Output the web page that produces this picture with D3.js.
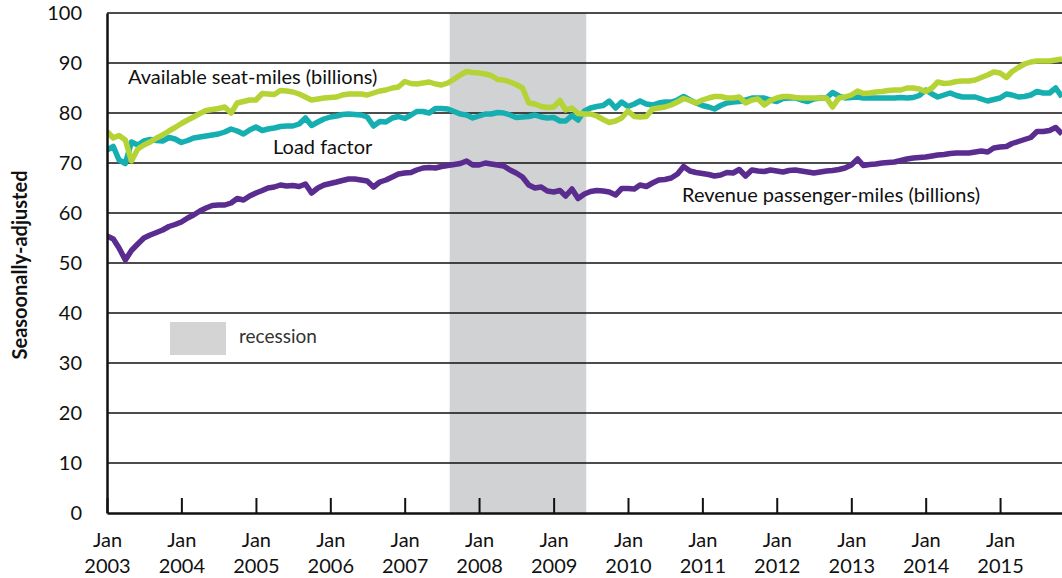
<!DOCTYPE html>
<html>
<head>
<meta charset="utf-8">
<script src="https://cdn.jsdelivr.net/npm/d3@7"></script>
<style>
  body { margin: 0; background: #fff; }
  svg { display: block; font-family: Lato, "Open Sans", sans-serif; }
</style>
</head>
<body>
<svg id="chart" width="1062" height="578"></svg>
<script>
// monthly, Jan 2003 .. Nov 2015
const months = d3.timeMonth.range(new Date(2003, 0, 1), new Date(2015, 11, 1));

const revenuePassengerMiles = [
  55.4, 54.8, 53.0, 50.6, 52.5, 53.8, 55.0, 55.6, 56.1, 56.6,
  57.3, 57.7, 58.2, 59.0, 59.6, 60.4, 61.0, 61.5, 61.6, 61.6,
  62.0, 62.9, 62.6, 63.4, 64.0, 64.5, 65.0, 65.2, 65.6, 65.4,
  65.5, 65.3, 65.8, 64.0, 65.0, 65.6, 65.9, 66.2, 66.5, 66.8,
  66.8, 66.6, 66.4, 65.2, 66.2, 66.6, 67.2, 67.8, 68.0, 68.1,
  68.6, 69.0, 69.1, 69.0, 69.3, 69.5, 69.7, 69.9, 70.4, 69.6,
  69.6, 70.0, 69.8, 69.6, 69.4, 68.6, 68.0, 67.2, 65.6, 65.0,
  65.2, 64.4, 64.2, 64.5, 63.4, 64.8, 62.9, 63.8, 64.3, 64.5,
  64.4, 64.2, 63.6, 64.9, 64.9, 64.8, 65.6, 65.3, 66.0, 66.6,
  66.7, 67.0, 67.8, 69.3, 68.4, 68.1, 67.9, 67.7, 67.4, 67.6,
  68.1, 68.0, 68.7, 67.4, 68.6, 68.4, 68.3, 68.6, 68.4, 68.2,
  68.5, 68.6, 68.4, 68.2, 68.0, 68.2, 68.4, 68.5, 68.7, 69.0,
  69.6, 70.8, 69.5, 69.7, 69.8, 70.0, 70.1, 70.2, 70.5, 70.8,
  71.0, 71.1, 71.2, 71.4, 71.6, 71.7, 71.9, 72.0, 72.0, 72.0,
  72.2, 72.4, 72.2, 73.0, 73.2, 73.3, 73.9, 74.3, 74.7, 75.1,
  76.3, 76.3, 76.5, 77.1, 75.8
];

const loadFactor = [
  72.6, 73.3, 70.6, 69.9, 74.2, 73.6, 74.4, 74.7, 74.5, 74.4,
  75.1, 74.8, 74.1, 74.5, 75.0, 75.2, 75.4, 75.6, 75.8, 76.2,
  76.8, 76.4, 75.8, 76.6, 77.2, 76.5, 76.8, 77.0, 77.3, 77.4,
  77.4, 77.8, 79.0, 77.5, 78.2, 78.8, 79.2, 79.4, 79.7, 79.8,
  79.7, 79.6, 79.2, 77.4, 78.3, 78.2, 79.0, 79.3, 78.9, 79.6,
  80.3, 80.3, 80.0, 80.9, 80.9, 80.8, 80.3, 79.8, 79.6, 79.0,
  79.4, 79.8, 79.8, 80.1, 80.0, 79.6, 79.1, 79.2, 79.3, 79.6,
  79.2, 79.0, 79.1, 78.4, 78.4, 79.5, 78.6, 80.4, 81.0, 81.3,
  81.5, 82.4, 81.0, 82.2, 81.3, 81.8, 82.4, 81.8, 81.6, 82.0,
  82.2, 82.2, 82.6, 83.3, 82.6, 82.0, 81.5, 81.2, 80.8, 81.5,
  82.0, 82.2, 82.3, 82.6, 83.0, 83.0, 83.0, 82.6, 82.3, 82.9,
  83.0, 83.0, 82.6, 82.3, 82.8, 83.0, 83.0, 84.1, 83.4, 83.0,
  83.1, 83.2, 83.0, 83.0, 83.0, 83.0, 83.0, 83.0, 83.1, 83.0,
  83.1, 83.5, 84.6, 83.8, 83.2, 83.6, 84.0, 83.5, 83.2, 83.2,
  83.2, 82.8, 82.4, 82.7, 83.0, 83.8, 83.6, 83.2, 83.3, 83.6,
  84.3, 84.0, 84.0, 85.0, 83.2
];

const availableSeatMiles = [
  76.3, 75.0, 75.5, 74.6, 70.4, 72.8, 73.6, 74.2, 75.0, 75.6,
  76.4, 77.1, 77.9, 78.6, 79.2, 79.9, 80.5, 80.7, 80.9, 81.2,
  80.0, 82.0, 82.3, 82.6, 82.6, 83.9, 83.8, 83.7, 84.5, 84.4,
  84.2, 83.8, 83.2, 82.6, 82.8, 83.0, 83.1, 83.2, 83.6, 83.8,
  83.8, 83.8, 83.6, 84.0, 84.4, 84.6, 85.0, 85.2, 86.3, 85.9,
  85.8, 86.0, 86.2, 85.8, 85.6, 86.0, 86.8, 87.6, 88.3, 88.1,
  88.0, 87.8, 87.5, 86.7, 86.6, 86.2, 85.7, 85.0, 82.0, 81.8,
  81.3, 81.1, 81.2, 82.5, 80.6, 81.0, 79.9, 79.8, 79.8, 79.4,
  78.7, 78.1, 78.4, 79.0, 80.4, 79.3, 79.2, 79.3, 80.8, 81.0,
  81.2, 81.6, 82.2, 82.9, 82.5, 82.0, 82.6, 83.0, 83.3, 83.3,
  83.0, 83.0, 83.2, 82.0, 82.6, 82.8, 81.6, 82.5, 83.0, 83.3,
  83.3, 83.1, 83.0, 83.0, 83.0, 83.0, 83.0, 81.2, 83.0, 83.2,
  83.6, 84.4, 83.9, 84.0, 84.2, 84.3, 84.5, 84.6, 84.6, 85.0,
  85.0, 84.8, 84.3, 85.0, 86.2, 85.9, 86.0, 86.3, 86.4, 86.4,
  86.6, 87.1, 87.6, 88.2, 88.0, 87.1, 88.3, 89.1, 89.8, 90.2,
  90.4, 90.4, 90.4, 90.6, 90.8
];

const yearTicks = d3.range(2003, 2016);
const yTicks = d3.range(0, 101, 10);
const recession = [new Date(2007, 7, 10), new Date(2009, 5, 10)];

const svg = d3.select('#chart');
const m = { left: 107, right: 1062, top: 13, bottom: 513 };

const x = d3.scaleTime()
  .domain([new Date(2003, 0, 1), new Date(2015, 10, 1)])
  .range([m.left, m.right]);
const y = d3.scaleLinear().domain([0, 100]).range([m.bottom, m.top]);

svg.append('defs').append('clipPath').attr('id', 'plot')
  .append('rect').attr('x', m.left).attr('y', 0).attr('width', m.right - m.left).attr('height', m.bottom);

// recession band
svg.append('rect')
  .attr('x', x(recession[0])).attr('y', m.top)
  .attr('width', x(recession[1]) - x(recession[0]))
  .attr('height', m.bottom - m.top)
  .attr('fill', '#d1d2d4');

// grid
svg.append('g').selectAll('line').data(yTicks.filter(d => d > 0)).enter().append('line')
  .attr('x1', m.left).attr('x2', m.right)
  .attr('y1', d => y(d)).attr('y2', d => y(d))
  .attr('stroke', '#111').attr('stroke-width', 1.3);

// legend
svg.append('rect').attr('x', 170).attr('y', 322).attr('width', 56).attr('height', 33).attr('fill', '#d4d4d4');
svg.append('text').attr('x', 239).attr('y', 343).attr('font-size', 19).attr('fill', '#333').text('recession');

// lines
const line = d3.line().x((d, i) => x(months[i])).y(d => y(d));
const series = [
  { values: revenuePassengerMiles, color: '#5b2c8f' },
  { values: loadFactor, color: '#15afb1' },
  { values: availableSeatMiles, color: '#b5d334' }
];
svg.append('g').attr('clip-path', 'url(#plot)').selectAll('path').data(series).enter().append('path')
  .attr('d', d => line(d.values))
  .attr('fill', 'none')
  .attr('stroke', d => d.color)
  .attr('stroke-width', 5.5)
  .attr('stroke-linejoin', 'round');

// axes
const yAxis = svg.append('g').attr('transform', `translate(${m.left},0)`)
  .call(d3.axisLeft(y).tickValues(yTicks).tickSize(0).tickPadding(25));
yAxis.select('.domain').attr('stroke', '#111').attr('stroke-width', 2.5);
yAxis.selectAll('text').attr('font-size', 20).attr('fill', '#111').attr('font-family', 'Lato, sans-serif');

const xAxis = svg.append('g').attr('transform', `translate(0,${m.bottom})`)
  .call(d3.axisBottom(x).tickValues(yearTicks.map(yr => new Date(yr, 0, 1)))
    .tickSizeInner(-15).tickSizeOuter(0).tickFormat(''));
xAxis.select('.domain').attr('stroke', '#111').attr('stroke-width', 2.5);
xAxis.selectAll('.tick line').attr('stroke', '#111').attr('stroke-width', 2);
xAxis.selectAll('.tick').append('text')
  .attr('fill', '#111').attr('font-size', 20).attr('text-anchor', 'middle')
  .attr('font-family', 'Lato, sans-serif')
  .each(function (d) {
    const t = d3.select(this);
    t.append('tspan').attr('x', 0).attr('y', 34).text('Jan');
    t.append('tspan').attr('x', 0).attr('y', 60).text(d.getFullYear());
  });

// y title
svg.append('text')
  .attr('transform', 'translate(27,265) rotate(-90)')
  .attr('text-anchor', 'middle')
  .attr('font-size', 20).attr('font-weight', 'bold').attr('fill', '#111')
  .text('Seasoonally-adjusted');

// series labels
const labels = [
  { text: 'Available seat-miles (billions)', x: 128, y: 84 },
  { text: 'Load factor', x: 273, y: 154 },
  { text: 'Revenue passenger-miles (billions)', x: 682, y: 202 }
];
svg.append('g').selectAll('text').data(labels).enter().append('text')
  .attr('x', d => d.x).attr('y', d => d.y)
  .attr('font-size', 20).attr('fill', '#111')
  .text(d => d.text);
</script>
</body>
</html>
